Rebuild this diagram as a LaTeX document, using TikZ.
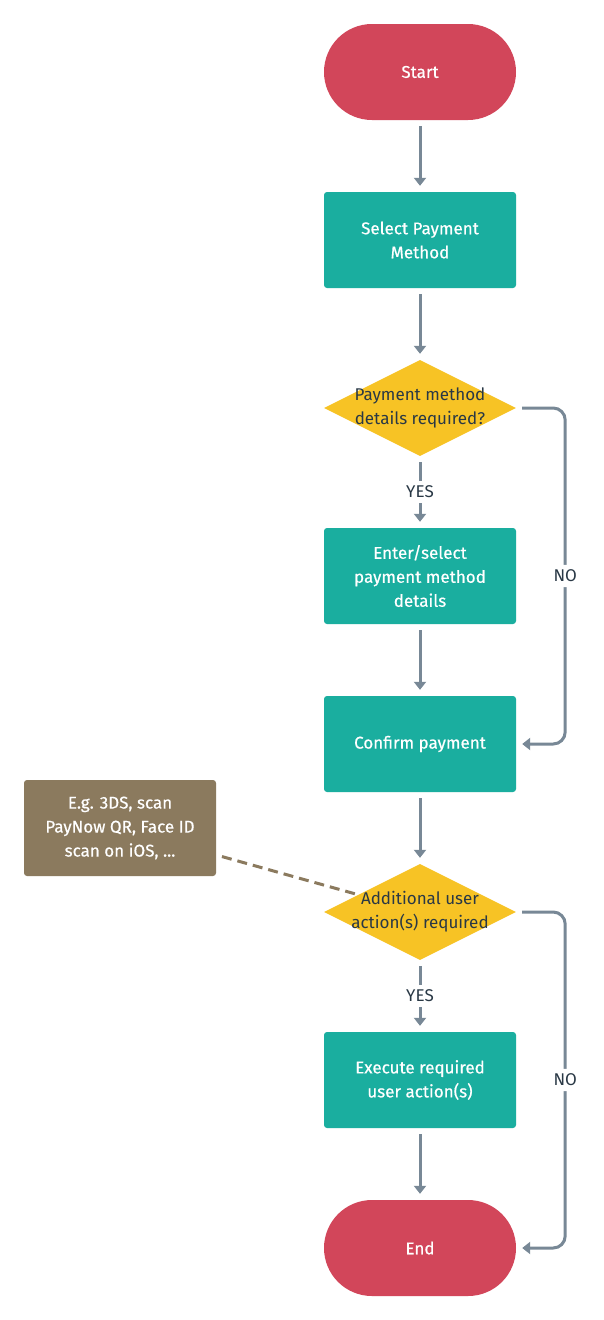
\documentclass[tikz,border=0pt]{standalone}
\usepackage{fontspec}
\setmainfont{Fira Sans}
\newfontfamily\boxfont{Fira Sans}[FakeBold=0.5]
\usetikzlibrary{shapes.geometric,arrows.meta}

\definecolor{termred}{HTML}{D2465A}
\definecolor{stepteal}{HTML}{1AAE9F}
\definecolor{askyellow}{HTML}{F7C325}
\definecolor{notebrown}{HTML}{8B7A5E}
\definecolor{flowgrey}{HTML}{788896}
\definecolor{inkdark}{HTML}{293845}

\tikzset{
  terminal/.style={fill=termred, text=white, rounded corners=48pt, font=\boxfont\fontsize{17}{24}\selectfont,
    minimum width=192pt, minimum height=96pt, align=center},
  process/.style={fill=stepteal, text=white, rounded corners=3pt, font=\boxfont\fontsize{17}{24}\selectfont,
    minimum width=192pt, minimum height=96pt, align=center},
  decision/.style={diamond, aspect=2, fill=askyellow, inner sep=0pt,
    minimum width=192pt, minimum height=96pt},
  decisiontext/.style={text=inkdark, align=center},
  note/.style={fill=notebrown, text=white, rounded corners=3pt, font=\boxfont\fontsize{17}{24}\selectfont,
    minimum width=192pt, minimum height=96pt, align=center},
  flow/.style={draw=flowgrey, line width=3pt, shorten >=6pt, shorten <=6pt,
    -{Triangle[width=12pt,length=8pt]}},
  branch/.style={fill=white, text=inkdark, inner sep=5pt},
  notelink/.style={draw=notebrown, line width=3pt, dash pattern=on 10pt off 6pt,
    shorten <=6pt}
}

\begin{document}
\begin{tikzpicture}[x=1pt, y=-1pt, font=\fontsize{17}{24}\selectfont]
  \useasboundingbox[fill=white] (0,0) rectangle (604,1320);

  % steps
  \node[terminal] (start) at (420,72) {Start};
  \node[process] (select) at (420,240) {Select Payment\\Method};
  \node[decision, label={[decisiontext]center:Payment method\\details required?}] (detailsq) at (420,408) {};
  \node[process] (enter) at (420,576) {Enter/select\\payment method\\details};
  \node[process] (confirm) at (420,744) {Confirm payment};
  \node[decision, label={[decisiontext]center:Additional user\\action(s) required}] (actionq) at (420,912) {};
  \node[process] (execute) at (420,1080) {Execute required\\user action(s)};
  \node[terminal] (end) at (420,1248) {End};

  % side note
  \node[note] (example) at (120,828) {E.g. 3DS, scan\\PayNow QR, Face ID\\scan on iOS, ...};

  % connectors
  \draw[flow] (start) -- (select);
  \draw[flow] (select) -- (detailsq);
  \draw[flow] (detailsq) -- node[branch] {YES} (enter);
  \draw[flow] (enter) -- (confirm);
  \draw[flow, rounded corners=12pt] (detailsq.east) -- ++(49,0) |- node[branch, pos=0.25] {NO} (confirm.east);
  \draw[flow] (confirm) -- (actionq);
  \draw[flow] (actionq) -- node[branch] {YES} (execute);
  \draw[flow] (execute) -- (end);
  \draw[flow, rounded corners=12pt] (actionq.east) -- ++(49,0) |- node[branch, pos=0.25] {NO} (end.east);
  \draw[notelink] (example) -- (actionq);
\end{tikzpicture}
\end{document}
